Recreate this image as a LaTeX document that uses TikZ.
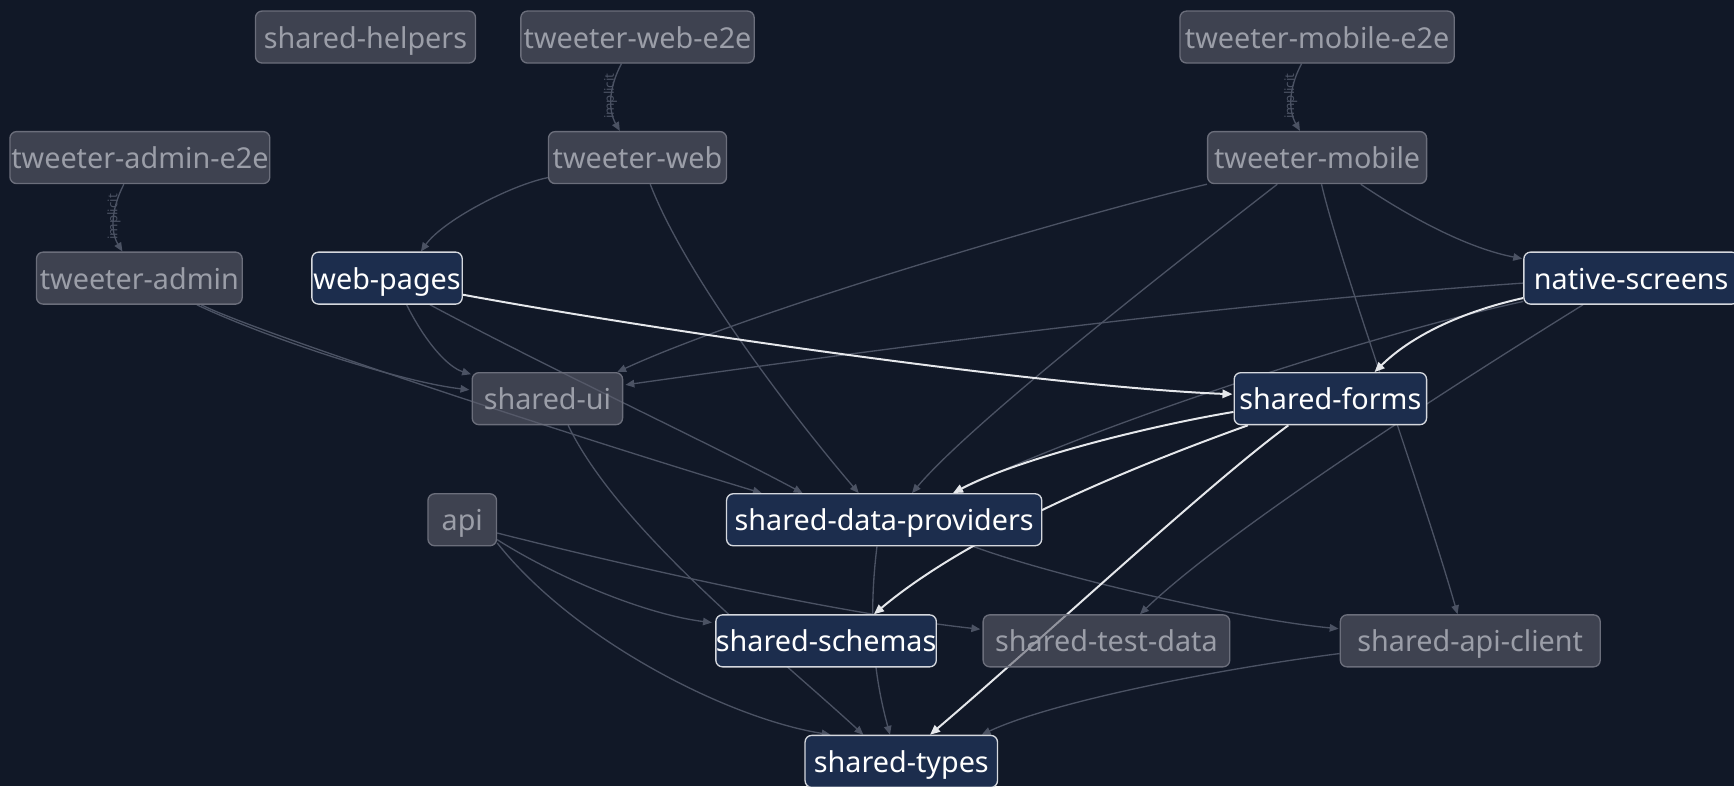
\documentclass[tikz,border=0pt]{standalone}
\usepackage{fontspec}
\setmainfont{Noto Sans}
\usetikzlibrary{arrows.meta,calc}
\definecolor{bg}{HTML}{111827}
\definecolor{gfill}{HTML}{5C5E6C}
\definecolor{gborder}{HTML}{6B6E7B}
\definecolor{gtext}{HTML}{9B9EA8}
\definecolor{gedge}{HTML}{4B5263}
\definecolor{hfill}{HTML}{1C2D4D}
\definecolor{hborder}{HTML}{D5D8DE}
\definecolor{wedge}{HTML}{E5E7EB}
\definecolor{lblcol}{HTML}{4B5263}
\pgfdeclarelayer{edges}
\pgfdeclarelayer{bglayer}
\pgfsetlayers{bglayer,edges,main}
\tikzset{
  base/.style={rectangle, rounded corners=3pt, minimum height=23.5pt, inner sep=0pt,
    text height=10pt, text depth=0pt,
    font=\fontsize{13}{15}\selectfont, line width=0.6pt},
  gn/.style={base, fill=gfill, fill opacity=0.6, text opacity=1, draw=gborder, draw opacity=1, text=gtext},
  hn/.style={base, fill=hfill, draw=hborder, text=white},
  ge/.style={draw=gedge, line width=0.6pt, -{Triangle[length=4pt,width=3.4pt]}},
  we/.style={draw=wedge, line width=0.9pt, -{Triangle[length=4.5pt,width=3.8pt]}},
  lbl/.style={font=\fontsize{6}{7}\selectfont, text=lblcol, rotate=90, inner sep=0pt}
}
\begin{document}
\begin{tikzpicture}[x=0.5pt,y=-0.5pt]
\useasboundingbox (0,0) rectangle (1568,711);
\begin{pgfonlayer}{bglayer}
\fill[bg] (0,0) rectangle (1568,711);
\end{pgfonlayer}

% nodes
\node[gn, minimum width=99.5pt] (sh) at (330.5,33.5) {shared-helpers};
\node[gn, minimum width=105.5pt] (twe) at (576.5,33.5) {tweeter-web-e2e};
\node[gn, minimum width=124pt] (tme) at (1191,33.5) {tweeter-mobile-e2e};
\node[gn, minimum width=117.5pt] (tae) at (126.5,142.5) {tweeter-admin-e2e};
\node[gn, minimum width=80.5pt] (tw) at (576.5,142.5) {tweeter-web};
\node[gn, minimum width=99pt] (tm) at (1191,142.5) {tweeter-mobile};
\node[gn, minimum width=93pt] (ta) at (126,251.5) {tweeter-admin};
\node[hn, minimum width=68pt] (wp) at (350,251.5) {web-pages};
\node[hn, minimum width=97pt] (ns) at (1475,251.5) {native-screens};
\node[gn, minimum width=68pt] (sui) at (495,360.5) {shared-ui};
\node[hn, minimum width=87pt] (sf) at (1203,360.5) {shared-forms};
\node[gn, minimum width=31pt] (api) at (418,470) {api};
\node[hn, minimum width=142.5pt] (sdp) at (799.5,470) {shared-data-providers};
\node[hn, minimum width=99pt] (ss) at (747,579.5) {shared-schemas};
\node[gn, minimum width=111.5pt] (std) at (1000.5,579.5) {shared-test-data};
\node[gn, minimum width=117.5pt] (sac) at (1329.5,579.5) {shared-api-client};
\node[hn, minimum width=87pt] (st) at (815,688.5) {shared-types};

\begin{pgfonlayer}{edges}
% implicit edges
\draw[ge] ($(twe.south)+(-14.5,0)$) .. controls (550,80) and (550,100) .. ($(tw.north)+(-16,0)$);
\node[lbl] (l1) at (552,87) {implicit};
\draw[ge] ($(tme.south)+(-14,0)$) .. controls (1165,80) and (1165,100) .. ($(tm.north)+(-15.5,0)$);
\node[lbl] (l2) at (1167,87) {implicit};
\draw[ge] ($(tae.south)+(-14.5,0)$) .. controls (100,190) and (100,210) .. ($(ta.north)+(-15.3,0)$);
\node[lbl] (l3) at (103,196) {implicit};

% grey edges
\draw[ge] ($(tw.south west)+(0,-6)$) .. controls (460,168) and (400,200) .. ($(wp.north)+(30.6,0)$);
\draw[ge] ($(tw.south)+(11.5,0)$) .. controls (620,250) and (720,380) .. ($(sdp.north)+(-23,0)$);
\draw[ge] (tm.south west) .. controls (990,190) and (680,280) .. ($(sui.north east)+(-5.4,0)$);
\draw[ge] ($(ns.west)+(0,4.5)$) .. controls (1100,275) and (800,315) .. ($(sui.east)+(2,-12.5)$);
\draw[ge] ($(tm.south)+(-36,0)$) .. controls (1080,225) and (880,380) .. ($(sdp.north)+(25.2,0)$);
\draw[ge] ($(tm.south)+(4,0)$) .. controls (1212,240) and (1285,440) .. ($(sac.north)+(-11.5,0)$);
\draw[ge] ($(tm.south)+(39.5,0)$) .. controls (1280,200) and (1330,225) .. ($(ns.north west)+(-1,6.5)$);
\draw[ge] ($(wp.south)+(17.7,0)$) .. controls (385,310) and (405,332) .. ($(sui.north west)+(-0.5,2)$);
\draw[ge] ($(wp.south)+(38.8,0)$) .. controls (500,335) and (650,405) .. ($(sdp.north)+(-73.8,0)$);
\draw[ge] ($(ta.south)+(52,0)$) .. controls (240,305) and (360,345) .. ($(sui.west)+(-2,-8)$);
\draw[ge] ($(ta.south)+(56,0)$) .. controls (230,300) and (520,395) .. ($(sdp.north)+(-110.7,0)$);
\draw[ge] ($(sui.south)+(18.7,0)$) .. controls (560,480) and (700,590) .. ($(st.north)+(-34.3,0)$);
\draw[ge] ($(api.east)+(0,18)$) .. controls (500,520) and (580,555) .. ($(ss.west)+(-3,-16.5)$);
\draw[ge] ($(api.east)+(0,12)$) .. controls (580,515) and (760,555) .. ($(std.west)+(-2,-10.5)$);
\draw[ge] ($(api.east)+(0,21)$) .. controls (520,580) and (660,650) .. ($(st.north)+(-64,0)$);
\draw[ge] ($(sdp.south)+(80.5,0)$) .. controls (950,520) and (1120,560) .. ($(sac.west)+(-1,-11)$);
\draw[ge] ($(sdp.south)+(-6.5,0)$) .. controls (785,560) and (790,610) .. ($(st.north)+(-10.2,0)$);
\draw[ge] ($(ns.south west)+(0,-3)$) .. controls (1250,300) and (1000,380) .. ($(sdp.north)+(62.3,0)$);
\draw[ge] ($(ns.south)+(-43.5,0)$) .. controls (1360,320) and (1120,470) .. ($(std.north)+(30.3,0)$);
\draw[ge] ($(sac.west)+(0,11.5)$) .. controls (1100,605) and (950,635) .. ($(st.north)+(72.7,0)$);

% highlighted edges
\draw[we] ($(wp.east)+(0,15)$) .. controls (600,300) and (950,350) .. ($(sf.west)+(-1,-4)$);
\draw[we] ($(ns.west)+(0,18)$) .. controls (1330,280) and (1280,300) .. ($(sf.north)+(40,0)$);
\draw[we] ($(sf.west)+(0,12)$) .. controls (1040,385) and (920,415) .. ($(sdp.north)+(62.3,0)$);
\draw[we] ($(sf.south west)+(13,0)$) .. controls (1030,420) and (880,480) .. ($(ss.north)+(43.3,0)$);
\draw[we] ($(sf.south)+(-38,0)$) .. controls (1090,440) and (940,580) .. ($(st.north)+(26,0)$);
\end{pgfonlayer}
\end{tikzpicture}
\end{document}
